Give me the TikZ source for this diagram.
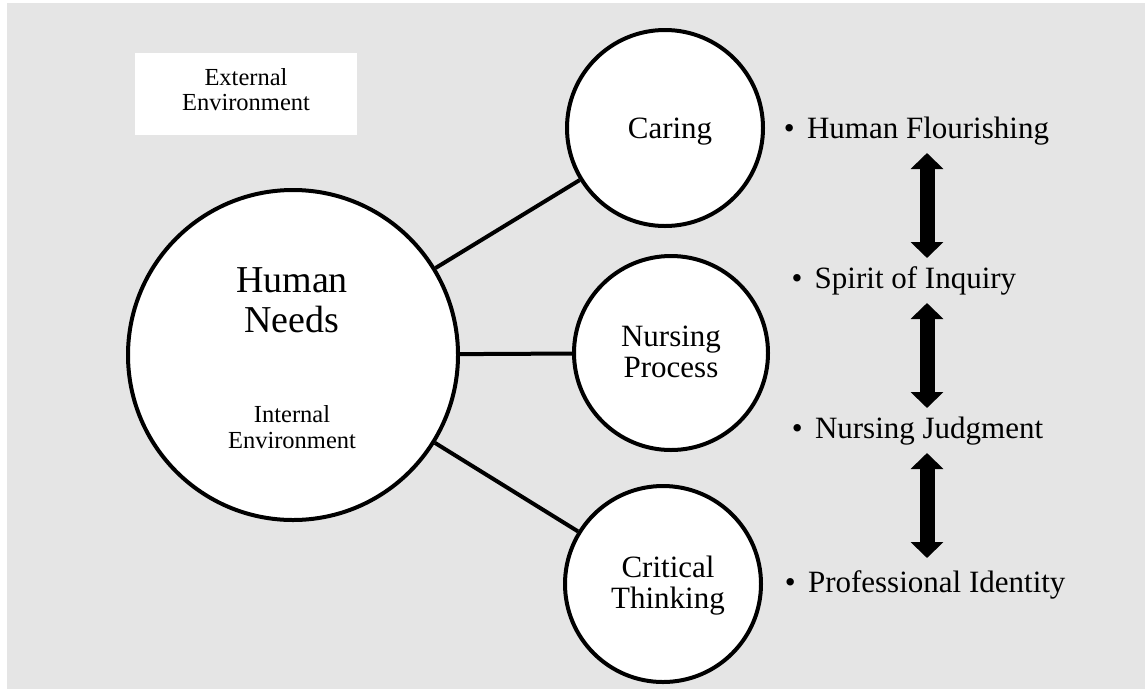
\documentclass[tikz,border=0pt]{standalone}
\usepackage{fontspec}
\setmainfont{Liberation Serif}
\usetikzlibrary{arrows.meta}
\definecolor{bg}{RGB}{229,229,229}
\begin{document}
\begin{tikzpicture}[x=1pt,y=-1pt,
  ring/.style={circle,draw=black,line width=4pt,fill=white,inner sep=0pt},
  link/.style={draw=black,line width=4pt},
  bigarrow/.style={line width=15pt,{Triangle[width=32pt,length=16pt]}-{Triangle[width=32pt,length=16pt]}},
  bigtxt/.style={font=\fontsize{38}{40}\selectfont,align=center,inner sep=0pt},
  midtxt/.style={font=\fontsize{31}{31}\selectfont,align=center,inner sep=0pt},
  smalltxt/.style={font=\fontsize{24.5}{25.5}\selectfont,align=center,inner sep=0pt},
  item/.style={font=\fontsize{31}{31}\selectfont,anchor=base west,inner sep=0pt}]
\useasboundingbox (0,0) rectangle (1145,689);
\fill[bg] (7,3) rectangle (1145,689);
% external environment box
\node[fill=white,minimum width=222pt,minimum height=82pt,inner sep=0pt] (extbox) at (246,94) {};
\node[smalltxt] (ext) at (246,89.5) {External\\Environment};
% circles
\node[ring,minimum size=330pt] (hn) at (293,355) {};
\node[ring,minimum size=196pt] (car) at (665,128) {};
\node[ring,minimum size=194pt] (np) at (671,353) {};
\node[ring,minimum size=196pt] (ct) at (663,584) {};
% connectors
\draw[link] (hn) -- (car);
\draw[link] (hn) -- (np);
\draw[link] (hn) -- (ct);
% circle texts
\node[bigtxt] (hnt) at (292,300) {Human\\Needs};
\node[smalltxt] (int) at (292,427.3) {Internal\\Environment};
\node[midtxt,anchor=base] (cart) at (670,138) {Caring};
\node[midtxt] (npt) at (671,352) {Nursing\\Process};
\node[midtxt] (ctt) at (668,585.3) {Critical\\Thinking};
% bullet list
\node[item] (hf) at (783.6,138) {•\hspace{0.4em}Human Flourishing};
\node[item] (si) at (791.3,288) {•\hspace{0.4em}Spirit of Inquiry};
\node[item] (nj) at (791.6,438) {•\hspace{0.4em}Nursing Judgment};
\node[item] (pi) at (784.6,592) {•\hspace{0.4em}Professional Identity};
% double arrows
\coordinate (a1s) at (927,153);
\coordinate (a1e) at (927,258);
\coordinate (a2s) at (927,303);
\coordinate (a2e) at (927,408);
\coordinate (a3s) at (927,453);
\coordinate (a3e) at (927,558);
\draw[bigarrow] (a1s) -- (a1e);
\draw[bigarrow] (a2s) -- (a2e);
\draw[bigarrow] (a3s) -- (a3e);
\end{tikzpicture}
\end{document}
